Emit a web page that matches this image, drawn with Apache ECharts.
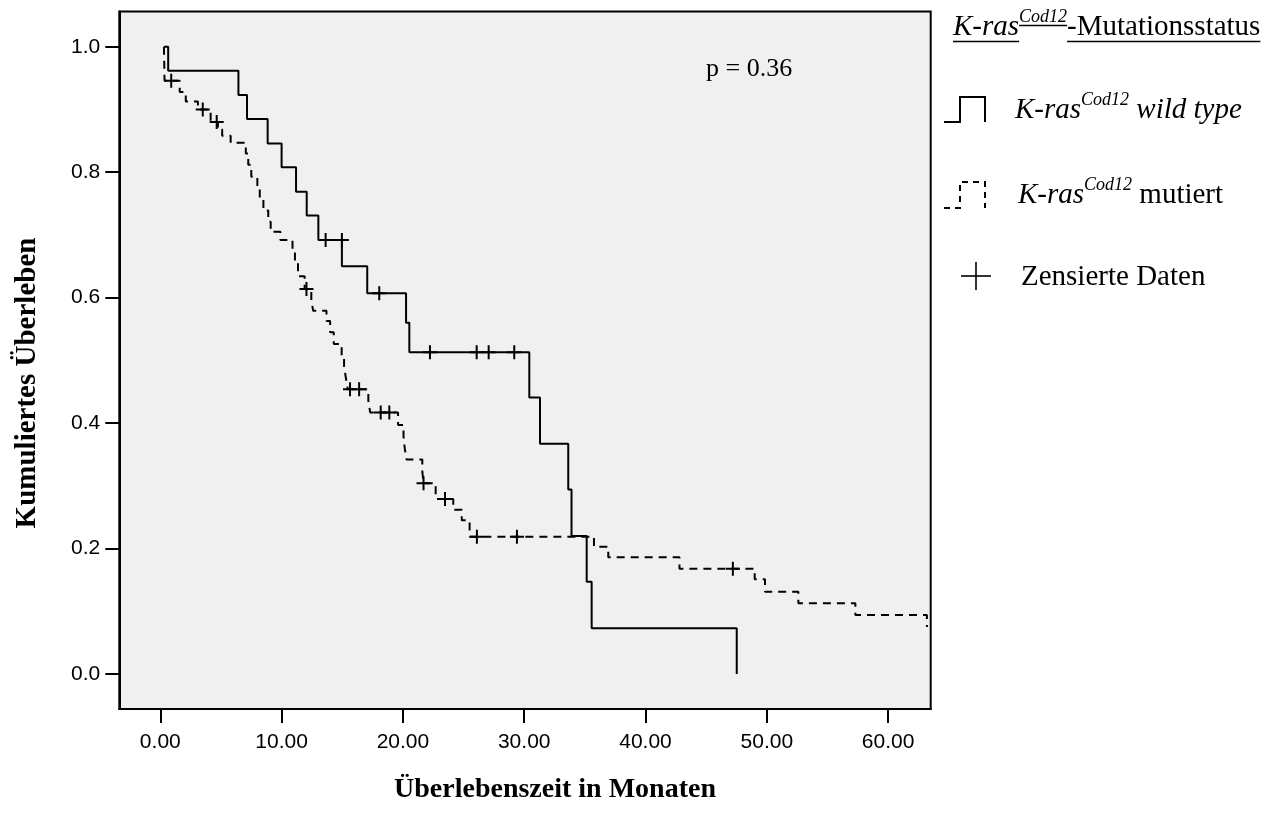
<!DOCTYPE html>
<html><head><meta charset="utf-8">
<script src="https://cdn.jsdelivr.net/npm/echarts@6/dist/echarts.min.js"></script>
<style>html,body{margin:0;padding:0;background:#fff}#c{width:1276px;height:826px}</style>
</head><body><div id="c"></div>
<script>
// ---- data ----
const xTicks = [0, 10, 20, 30, 40, 50, 60];
const yTicks = [0, 0.2, 0.4, 0.6, 0.8, 1.0];

// K-ras wild type: step points (time in months, cumulative survival)
const wildTimes = [0.3, 0.65, 6.44, 7.15, 8.85, 10.0, 11.19, 12.07, 13.03, 14.97, 17.06, 20.26, 20.53, 30.42, 31.3, 33.63, 33.9, 35.15, 35.56, 47.52];
const wildSurv  = [1.0, 0.962, 0.923, 0.885, 0.846, 0.808, 0.769, 0.731, 0.692, 0.650, 0.607, 0.560, 0.513, 0.441, 0.367, 0.294, 0.220, 0.147, 0.073, 0.0];
const wildCensorTimes = [13.63, 14.97, 18.05, 22.23, 26.08, 27.07, 29.18];
const wildCensorSurv  = [0.692, 0.692, 0.607, 0.513, 0.513, 0.513, 0.513];

// K-ras mutiert
const mutTimes = [0.3, 0.35, 1.6, 2.1, 3.1, 4.15, 4.75, 5.1, 5.8, 7.05, 7.25, 7.5, 8.0, 8.2, 8.5, 8.9, 9.1, 9.9, 10.9, 11.1, 11.35, 11.9, 12.45, 12.6, 13.7, 14.0, 14.3, 14.95, 15.15, 15.3, 15.45, 17.15, 17.3, 19.6, 20.05, 20.15, 20.3, 21.6, 21.7, 22.7, 24.15, 24.85, 25.5, 35.75, 36.93, 42.8, 49.0, 49.85, 52.6, 57.3, 63.2];
const mutSurv  = [1.0, 0.946, 0.928, 0.913, 0.900, 0.880, 0.868, 0.858, 0.847, 0.830, 0.812, 0.793, 0.775, 0.757, 0.739, 0.721, 0.705, 0.692, 0.674, 0.656, 0.634, 0.614, 0.596, 0.579, 0.563, 0.545, 0.526, 0.508, 0.490, 0.472, 0.454, 0.436, 0.417, 0.397, 0.379, 0.360, 0.342, 0.323, 0.304, 0.279, 0.262, 0.245, 0.219, 0.203, 0.186, 0.168, 0.151, 0.131, 0.113, 0.094, 0.075];
const mutCensorTimes = [0.9, 3.5, 4.65, 12.05, 15.64, 16.39, 18.17, 18.88, 21.7, 23.47, 26.1, 29.4, 47.2];
const mutCensorSurv  = [0.946, 0.900, 0.880, 0.614, 0.454, 0.454, 0.417, 0.417, 0.304, 0.279, 0.219, 0.219, 0.168];

const pText = 'p = 0.36';
const xTitle = 'Überlebenszeit in Monaten';
const yTitle = 'Kumuliertes Überleben';

// ---- helpers ----
const zip = (a, b) => a.map((v, i) => [v, b[i]]);
const SERIF = '"Liberation Serif", "Times New Roman", serif';
const SANS = '"Liberation Sans", Arial, sans-serif';
const ctx = document.createElement('canvas').getContext('2d');
function fontStr(p) {
  return (p.italic ? 'italic ' : 'normal ') + (p.bold ? 'bold ' : 'normal ') + p.size + 'px ' + SERIF;
}
// parts placed left to right on an alphabetic baseline
function textRun(parts, x, baseline, underline) {
  const els = [];
  let cx = x;
  parts.forEach(p => {
    const f = fontStr(p);
    ctx.font = f;
    const w = ctx.measureText(p.t).width;
    const bl = baseline - (p.rise || 0);
    els.push({
      type: 'text', x: cx, y: bl - 0.3375 * p.size, silent: true,
      style: { text: p.t, font: f, fill: '#000', align: 'left', verticalAlign: 'middle' }
    });
    if (underline) {
      const uy = bl + (p.rise ? 2.5 : 4.5);
      els.push({ type: 'line', silent: true, shape: { x1: cx, y1: uy, x2: cx + w, y2: uy },
        style: { stroke: '#000', lineWidth: 1.3 } });
    }
    cx += w;
  });
  return els;
}
const PLUS = 'path://M0,6L14,6L14,8L0,8Z M6,0L8,0L8,14L6,14Z';

const graphics = [];
// legend title
graphics.push(...textRun([
  { t: 'K-ras', italic: true, size: 29 },
  { t: 'Cod12', italic: true, size: 18, rise: 14 },
  { t: '-Mutationsstatus', size: 29 }
], 953, 37, true));
// legend rows
graphics.push({ type: 'polyline', silent: true,
  shape: { points: [[944, 122], [960, 122], [960, 97], [985, 97], [985, 122]] },
  style: { stroke: '#000', lineWidth: 2, fill: null } });
graphics.push(...textRun([
  { t: 'K-ras', italic: true, size: 29 },
  { t: 'Cod12', italic: true, size: 18, rise: 14 },
  { t: ' wild type', italic: true, size: 29 }
], 1015, 120, false));
graphics.push({ type: 'polyline', silent: true,
  shape: { points: [[944, 208], [960, 208], [960, 182], [985, 182], [985, 208]] },
  style: { stroke: '#000', lineWidth: 2, fill: null, lineDash: [6, 5] } });
graphics.push(...textRun([
  { t: 'K-ras', italic: true, size: 29 },
  { t: 'Cod12', italic: true, size: 18, rise: 14 },
  { t: ' mutiert', size: 29 }
], 1018, 205, false));
graphics.push({ type: 'line', silent: true, shape: { x1: 961, y1: 276, x2: 991, y2: 276 }, style: { stroke: '#000', lineWidth: 1.6 } });
graphics.push({ type: 'line', silent: true, shape: { x1: 976, y1: 262, x2: 976, y2: 290 }, style: { stroke: '#000', lineWidth: 1.6 } });
graphics.push(...textRun([{ t: 'Zensierte Daten', size: 29 }], 1021, 287, false));
// p value
graphics.push(...textRun([{ t: pText, size: 26 }], 706, 78, false));
// axis titles
graphics.push({ type: 'text', x: 555, y: 790, silent: true,
  style: { text: xTitle, font: 'bold 28px ' + SERIF, fill: '#000', align: 'center', verticalAlign: 'middle' } });
graphics.push({ type: 'text', x: 28, y: 383, rotation: Math.PI / 2, silent: true,
  style: { text: yTitle, font: 'bold 29px ' + SERIF, fill: '#000', align: 'center', verticalAlign: 'middle' } });

const chart = echarts.init(document.getElementById('c'), null, { renderer: 'canvas' });
chart.setOption({
  animation: false,
  backgroundColor: '#ffffff',
  grid: { left: 119.3, top: 11.5, right: 345.3, bottom: 117, show: true,
    backgroundColor: '#f0f0f0', borderColor: '#000', borderWidth: 2 },
  xAxis: {
    type: 'value', min: -3.38, max: 63.51,
    axisLine: { show: true, onZero: false, lineStyle: { color: '#000', width: 2 } },
    axisTick: { show: true, inside: false, length: 14, customValues: xTicks, lineStyle: { color: '#000', width: 2 } },
    axisLabel: { customValues: xTicks, formatter: v => Number(v).toFixed(2), margin: 23,
      fontFamily: SANS, fontSize: 21, color: '#000' },
    splitLine: { show: false }
  },
  yAxis: {
    type: 'value', min: -0.0558, max: 1.0563,
    axisLine: { show: true, onZero: false, lineStyle: { color: '#000', width: 2 } },
    axisTick: { show: true, inside: false, length: 14, customValues: yTicks, lineStyle: { color: '#000', width: 2 } },
    axisLabel: { customValues: yTicks, formatter: v => Number(v).toFixed(1), margin: 19,
      fontFamily: SANS, fontSize: 21, color: '#000' },
    splitLine: { show: false }
  },
  series: [
    { name: 'wild type', type: 'line', step: 'end', showSymbol: false, symbol: 'none',
      data: zip(wildTimes, wildSurv), lineStyle: { color: '#000', width: 2 }, z: 3 },
    { name: 'mutiert', type: 'line', step: 'end', showSymbol: false, symbol: 'none',
      data: zip(mutTimes, mutSurv), lineStyle: { color: '#000', width: 2, type: [8, 6] }, z: 3 },
    { name: 'wild censored', type: 'scatter', symbol: PLUS, symbolSize: [14, 14],
      data: zip(wildCensorTimes, wildCensorSurv), itemStyle: { color: '#000', opacity: 1 }, z: 4 },
    { name: 'mut censored', type: 'scatter', symbol: PLUS, symbolSize: [14, 14],
      data: zip(mutCensorTimes, mutCensorSurv), itemStyle: { color: '#000', opacity: 1 }, z: 4 }
  ],
  graphic: { elements: graphics }
});
</script></body></html>
